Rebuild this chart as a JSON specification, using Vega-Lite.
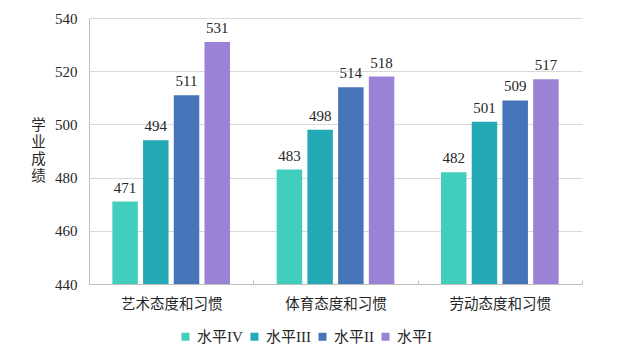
{
  "$schema": "https://vega.github.io/schema/vega-lite/v6.json",
  "autosize": {"type": "none"},
  "width": 493,
  "height": 266,
  "padding": {"left": 89, "top": 18, "right": 36, "bottom": 80},
  "background": "white",
  "config": {
    "view": {"stroke": null},
    "font": "Liberation Serif, Noto Sans CJK SC",
    "text": {"font": "Liberation Serif, Noto Sans CJK SC"}
  },
  "data": {
    "values": [
      {"category": "艺术态度和习惯", "level": "水平IV", "score": 471},
      {"category": "艺术态度和习惯", "level": "水平III", "score": 494},
      {"category": "艺术态度和习惯", "level": "水平II", "score": 511},
      {"category": "艺术态度和习惯", "level": "水平I", "score": 531},
      {"category": "体育态度和习惯", "level": "水平IV", "score": 483},
      {"category": "体育态度和习惯", "level": "水平III", "score": 498},
      {"category": "体育态度和习惯", "level": "水平II", "score": 514},
      {"category": "体育态度和习惯", "level": "水平I", "score": 518},
      {"category": "劳动态度和习惯", "level": "水平IV", "score": 482},
      {"category": "劳动态度和习惯", "level": "水平III", "score": 501},
      {"category": "劳动态度和习惯", "level": "水平II", "score": 509},
      {"category": "劳动态度和习惯", "level": "水平I", "score": 517}
    ]
  },
  "encoding": {
    "x": {
      "field": "category", "type": "nominal", "sort": null,
      "scale": {"paddingInner": 0, "paddingOuter": 0},
      "axis": {
        "title": null, "labelAngle": 0, "tickBand": "extent",
        "domainColor": "#bfbfbf", "tickColor": "#bfbfbf", "tickSize": -4,
        "labelPadding": 17, "labelFontSize": 14.5, "labelColor": "#262626",
        "labelFont": "Noto Sans CJK SC", "grid": false
      }
    },
    "xOffset": {
      "field": "level", "type": "nominal", "sort": ["水平IV", "水平III", "水平II", "水平I"],
      "scale": {"paddingInner": 0.17, "paddingOuter": 0.76}
    },
    "y": {
      "field": "score", "type": "quantitative",
      "scale": {"domain": [440, 540], "nice": false, "zero": false},
      "axis": {
        "values": [440, 460, 480, 500, 520, 540],
        "ticks": false, "domainColor": "#bfbfbf", "gridColor": "#d9d9d9",
        "labelPadding": 12, "labelFontSize": 15, "labelColor": "#262626",
        "labelFont": "Liberation Serif",
        "title": ["学", "业", "成", "绩"],
        "titleAngle": 0, "titleAlign": "center", "titleBaseline": "middle",
        "titleX": -51, "titleY": 107, "titleLineHeight": 17,
        "titleFontSize": 14.5, "titleFontWeight": "normal", "titleColor": "#262626",
        "titleFont": "Noto Sans CJK SC"
      }
    }
  },
  "layer": [
    {
      "mark": {"type": "bar", "clip": true},
      "encoding": {
        "color": {
          "field": "level", "type": "nominal",
          "scale": {
            "domain": ["水平IV", "水平III", "水平II", "水平I"],
            "range": ["#42CEBC", "#24A9B6", "#4674B8", "#9A83D6"]
          },
          "legend": {
            "title": null, "orient": "none", "direction": "horizontal",
            "legendX": 89, "legendY": 311,
            "symbolType": "square", "symbolSize": 64, "symbolStrokeWidth": 0,
            "labelFontSize": 15, "labelColor": "#262626", "labelOffset": 4,
            "columnPadding": 4, "padding": 0,
            "labelFont": "Liberation Serif, Noto Sans CJK SC"
          }
        }
      }
    },
    {
      "mark": {"type": "text", "baseline": "alphabetic", "dy": -9, "fontSize": 15, "color": "#262626", "font": "Liberation Serif"},
      "encoding": {"text": {"field": "score", "type": "quantitative"}}
    }
  ]
}
